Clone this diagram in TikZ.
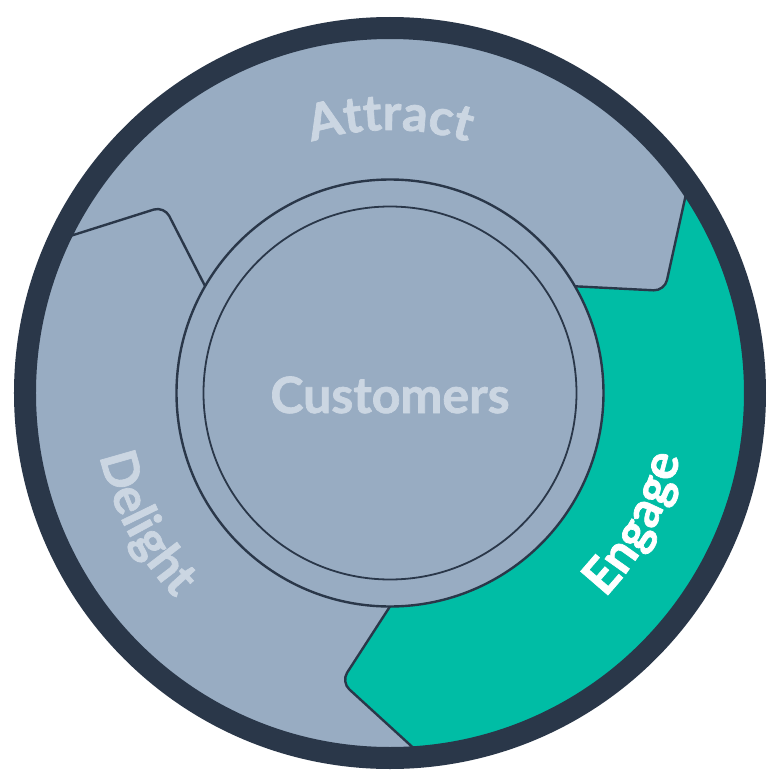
\documentclass[tikz,border=0pt]{standalone}
\usepackage{fontspec}
\setmainfont{Lato}[BoldFeatures={FakeBold=1.4}]
\usepackage{xcolor}
\usepackage{tikz}
\usetikzlibrary{calc,decorations.text}
\definecolor{wheelnavy}{RGB}{42,55,73}
\definecolor{wheelgray}{RGB}{152,172,194}
\definecolor{wheelgreen}{RGB}{0,189,165}
\definecolor{labelgray}{RGB}{203,214,226}
\newcommand{\wheelfont}{\fontsize{50}{50}\selectfont\bfseries}
\tikzset{
  seam/.style      = {draw=wheelnavy, line width=2.4pt, rounded corners=11pt},
  hub/.style       = {fill=wheelgray, draw=wheelnavy, line width=2.4pt},
  stagelabel/.style 2 args = {decorate, decoration={text along path, text align=center, text color=#1, text={|\wheelfont|#2}}},
}

\begin{document}
\begin{tikzpicture}[x=1pt, y=1pt]
  \fill[white] (-390,-387) rectangle (390,393);
  \fill[wheelgray] (0,0) circle[radius=362pt];
  \foreach \a [count=\k] in {20.4,140.4,260.4} {
    \coordinate (v\k) at (\a:293pt);
    \coordinate (in\k) at (\a+9.5:214pt);
    \coordinate (out\k) at (\a+13.1:354pt);
  }
  \begin{scope}
    \clip (0,0) circle[radius=366pt];
    \fill[wheelgreen, rounded corners=11pt] (0,0) -- ($(v1)!1.25!(in1)$) -- (v1) -- ($(v1)!1.2!(out1)$)
      -- (15:440pt) -- (-30:440pt) -- (-75:440pt)
      -- ($(v3)!1.2!(out3)$) -- (v3) -- ($(v3)!1.25!(in3)$) -- cycle;
  \end{scope}
  \foreach \k in {1,2,3}
    \draw[seam] ($(v\k)!1.25!(in\k)$) -- (v\k) -- ($(v\k)!1.2!(out\k)$);
  \draw[wheelnavy, line width=22pt] (0,0) circle[radius=365pt];
  \draw[hub] (0,0) circle[radius=213.5pt];
  \draw[wheelnavy, line width=1.8pt] (0,0) circle[radius=186.5pt];
  \node[font=\wheelfont, text=labelgray, anchor=base] (customers) at (0,-20) {Customers};
  \path[stagelabel={labelgray}{Attract}] (140:263pt) arc[start angle=140, end angle=40, radius=263pt];
  \path[stagelabel={labelgray}{Delight}] (158:297pt) arc[start angle=158, end angle=258, radius=297pt];
  \path[stagelabel={white}{Engage}] (282:297pt) arc[start angle=282, end angle=382, radius=297pt];
\end{tikzpicture}
\end{document}
